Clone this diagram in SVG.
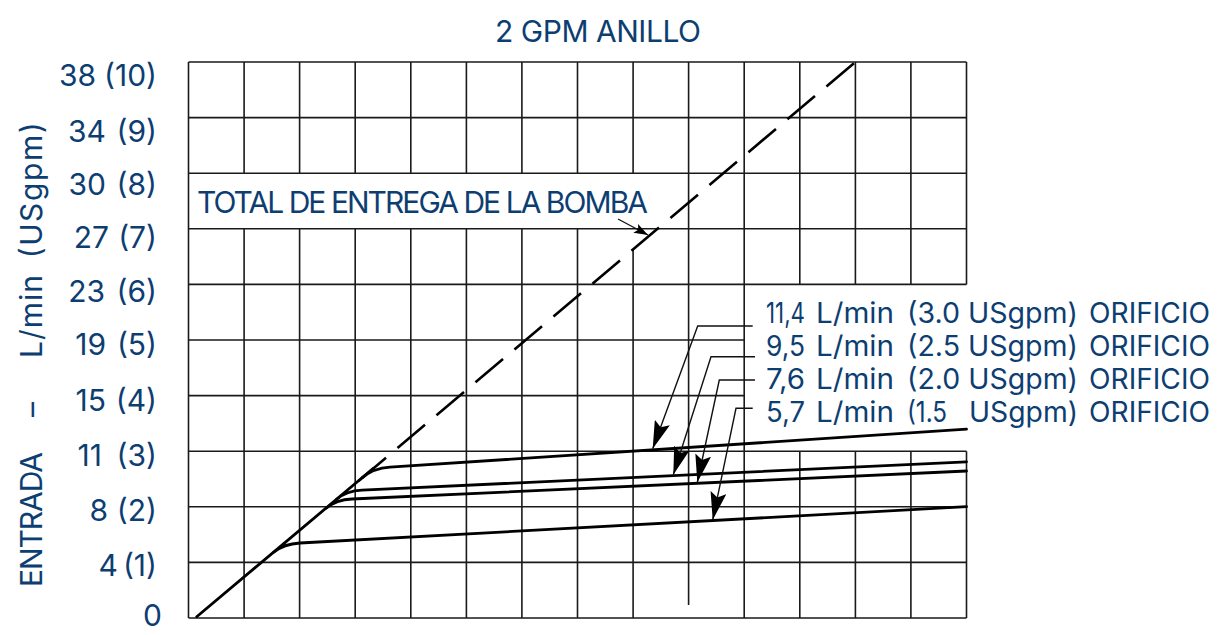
<svg xmlns="http://www.w3.org/2000/svg" width="1219" height="635" viewBox="0 0 1219 635">
<style>
.t{font-family:Inter,"Liberation Sans",sans-serif;font-size:30px;fill:#0d3e72}
.o{font-family:Inter,"Liberation Sans",sans-serif;font-size:28px;fill:#0d3e72}
.g{stroke:#1a1a1a;stroke-width:1.6;fill:none}
.c{stroke:#000;stroke-width:2.8;fill:none;stroke-linecap:round}
.d{stroke:#000;stroke-width:2.6;fill:none;stroke-dasharray:36 15}
.l{stroke:#111;stroke-width:1.4;fill:none}
</style>
<defs>
<marker id="ah" viewBox="0 0 28 16" refX="28" refY="8" markerWidth="28" markerHeight="16" markerUnits="userSpaceOnUse" orient="auto">
<path d="M0,0 L28,8 L0,16 L5,8 Z" fill="#000"/>
</marker>
<marker id="as" viewBox="0 0 14 10" refX="14" refY="5" markerWidth="14" markerHeight="10" markerUnits="userSpaceOnUse" orient="auto">
<path d="M0,0 L14,5 L0,10 L3,5 Z" fill="#000"/>
</marker>
</defs>
<rect width="1219" height="635" fill="#fff"/>
<g id="grid" class="g">
<path d="M188.5,62V618 M244.1,62V173.2 M244.1,228.8V618 M299.6,62V173.2 M299.6,228.8V618 M355.2,62V173.2 M355.2,228.8V618 M410.8,62V173.2 M410.8,228.8V618 M466.4,62V173.2 M466.4,228.8V618 M521.9,62V173.2 M521.9,228.8V618 M577.5,62V173.2 M577.5,228.8V618 M633.1,62V173.2 M633.1,249V618 M688.6,62V605 M744.2,62V618 M799.8,62V284.4 M799.8,451.2V618 M855.4,62V284.4 M855.4,451.2V618 M910.9,62V284.4 M910.9,451.2V618 M966.5,62V284.4 M966.5,451.2V618"/>
<path d="M188.5,62H966.5 M188.5,117.6H966.5 M188.5,173.2H966.5 M188.5,228.8H966.5 M188.5,284.4H966.5 M188.5,340H744.2 M188.5,395.6H744.2 M188.5,451.2H966.5 M188.5,506.8H966.5 M188.5,562.4H966.5 M188.5,618H966.5"/>
</g>
<g id="title"><text class="t" x="598" y="41.7" text-anchor="middle" textLength="206">2 GPM ANILLO</text></g>
<g id="y-axis">
<text class="t" transform="translate(41.7,587) rotate(-90)" textLength="135">ENTRADA</text>
<text class="t" transform="translate(41.7,417) rotate(-90)" textLength="15">–</text>
<text class="t" transform="translate(41.7,358) rotate(-90)" textLength="83">L/min</text>
<text class="t" transform="translate(41.7,258.3) rotate(-90)" textLength="136">(USgpm)</text>
<g text-anchor="end">
<text class="t" x="96" y="86">38</text><text class="t" x="157" y="86">(10)</text>
<text class="t" x="106" y="141.7">34</text><text class="t" x="157" y="141.7">(9)</text>
<text class="t" x="106" y="195">30</text><text class="t" x="157" y="195">(8)</text>
<text class="t" x="109" y="248">27</text><text class="t" x="157" y="248">(7)</text>
<text class="t" x="105" y="302">23</text><text class="t" x="157" y="302">(6)</text>
<text class="t" x="106" y="355">19</text><text class="t" x="157" y="355">(5)</text>
<text class="t" x="106" y="410.5">15</text><text class="t" x="157" y="410.5">(4)</text>
<text class="t" x="102" y="465.5">11</text><text class="t" x="157" y="465.5">(3)</text>
<text class="t" x="108" y="520.5">8</text><text class="t" x="157" y="520.5">(2)</text>
<text class="t" x="118" y="575.5">4</text><text class="t" x="157" y="575.5">(1)</text>
<text class="t" x="162" y="626">0</text>
</g>
</g>
<g id="pump-total">
<text class="t" x="197" y="213" textLength="451">TOTAL DE ENTREGA DE LA BOMBA</text>
</g>
<g id="orifice-labels" class="o">
<text x="766" y="323.3" textLength="39" lengthAdjust="spacingAndGlyphs">11,4</text>
<text x="816" y="323.3" textLength="78" lengthAdjust="spacingAndGlyphs">L/min</text>
<text x="907" y="323.3" textLength="171" lengthAdjust="spacingAndGlyphs">(3.0 USgpm)</text>
<text x="1089" y="323.3" textLength="121" lengthAdjust="spacingAndGlyphs">ORIFICIO</text>
<text x="766" y="355.5" textLength="39" lengthAdjust="spacingAndGlyphs">9,5</text>
<text x="816" y="355.5" textLength="78" lengthAdjust="spacingAndGlyphs">L/min</text>
<text x="907" y="355.5" textLength="171" lengthAdjust="spacingAndGlyphs">(2.5 USgpm)</text>
<text x="1089" y="355.5" textLength="121" lengthAdjust="spacingAndGlyphs">ORIFICIO</text>
<text x="766" y="388.5" textLength="39" lengthAdjust="spacingAndGlyphs">7,6</text>
<text x="816" y="388.5" textLength="78" lengthAdjust="spacingAndGlyphs">L/min</text>
<text x="907" y="388.5" textLength="171" lengthAdjust="spacingAndGlyphs">(2.0 USgpm)</text>
<text x="1089" y="388.5" textLength="121" lengthAdjust="spacingAndGlyphs">ORIFICIO</text>
<text x="766" y="421.7" textLength="39" lengthAdjust="spacingAndGlyphs">5,7</text>
<text x="816" y="421.7" textLength="78" lengthAdjust="spacingAndGlyphs">L/min</text>
<text x="907" y="421.7" textLength="40" lengthAdjust="spacingAndGlyphs">(1.5</text>
<text x="969" y="421.7" textLength="109" lengthAdjust="spacingAndGlyphs">USgpm)</text>
<text x="1089" y="421.7" textLength="121" lengthAdjust="spacingAndGlyphs">ORIFICIO</text>
</g>
<g id="connectors">
<path class="c" d="M196.7,616.7 L373.4,468.3"/>
<path class="d" d="M358.5,480.9 L856,61.5"/>
<path class="c" d="M362.4,477.6 Q373.4,468.3 390,467.2 L966.5,429.1"/>
<path class="c" d="M336.6,499.3 Q346.5,490.9 362,490.2 L966.5,461.8"/>
<path class="c" d="M326.2,508.1 Q336.1,499.7 352,499 L966.5,471"/>
<path class="c" d="M273.7,552.3 Q283.6,543.9 300,543 L966.5,506.7"/>
<path class="l" d="M752.7,326 L697.7,326 L652.7,448.8" marker-end="url(#ah)"/>
<path class="l" d="M755,356.7 L711,356.7 L673.3,474.8" marker-end="url(#ah)"/>
<path class="l" d="M755,380 L719.3,380 L697.3,482.5" marker-end="url(#ah)"/>
<path class="l" d="M752.7,408.3 L736,408.3 L712.7,520" marker-end="url(#ah)"/>
<path class="l" d="M618,219 L648,235" marker-end="url(#as)"/>
</g>
</svg>
